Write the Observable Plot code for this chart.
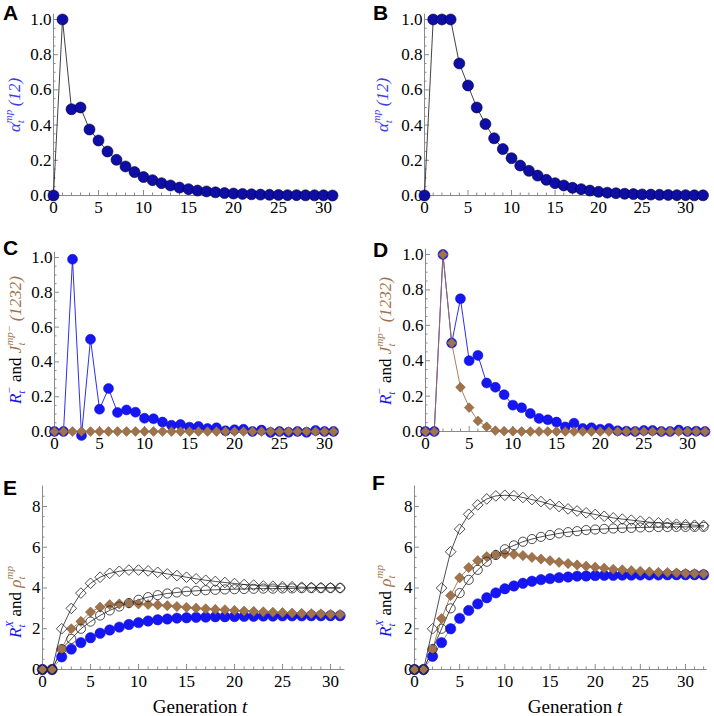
<!DOCTYPE html>
<html>
<head>
<meta charset="utf-8">
<script src="https://cdn.jsdelivr.net/npm/d3@7"></script>
<script src="https://cdn.jsdelivr.net/npm/@observablehq/plot@0.6"></script>
<style>
  html, body { margin: 0; padding: 0; background: #fff; }
  #page { position: relative; width: 714px; height: 716px; overflow: hidden; }
  .panel { position: absolute; }
  #overlay { position: absolute; left: 0; top: 0; pointer-events: none; }
</style>
</head>
<body>
<div id="page"></div>
<script>
// ---------- data ----------
const gen31 = [0,1,2,3,4,5,6,7,8,9,10,11,12,13,14,15,16,17,18,19,20,21,22,23,24,25,26,27,28,29,30,31];
const gen32 = [0,1,2,3,4,5,6,7,8,9,10,11,12,13,14,15,16,17,18,19,20,21,22,23,24,25,26,27,28,29,30,31,32];

const xTicksMajor = [0, 5, 10, 15, 20, 25, 30];
const xTicksMinor = [1,2,3,4,6,7,8,9,11,12,13,14,16,17,18,19,21,22,23,24,26,27,28,29,31,32];
const yTicksUnit = [0, 0.2, 0.4, 0.6, 0.8, 1.0];
const yTicksUnitMinor = [0.05,0.1,0.15,0.25,0.3,0.35,0.45,0.5,0.55,0.65,0.7,0.75,0.85,0.9,0.95];
const yTicksR = [0, 2, 4, 6, 8];
const yTicksRMinor = [0.5,1,1.5,2.5,3,3.5,4.5,5,5.5,6.5,7,7.5,8.5];

// Panel A: alpha_t^mp(12)
const alphaA = [0, 1.0, 0.49, 0.5, 0.375, 0.3125, 0.25, 0.203, 0.165, 0.133, 0.105, 0.087, 0.07, 0.057, 0.045, 0.036, 0.028, 0.023, 0.018, 0.014, 0.011, 0.009, 0.007, 0.005, 0.004, 0.003, 0.002, 0.002, 0.001, 0.001, 0.001, 0.0];
// Panel B: alpha_t^mp(12)
const alphaB = [0, 1, 1, 1, 0.75, 0.625, 0.5, 0.406, 0.325, 0.264, 0.212, 0.17, 0.14, 0.113, 0.089, 0.07, 0.057, 0.044, 0.036, 0.028, 0.021, 0.016, 0.013, 0.01, 0.008, 0.006, 0.005, 0.004, 0.003, 0.002, 0.002, 0.001, 0.001];
// Panel C: R_t^- (blue) and J_t^{mp-}(1232) (brown)
const rMinusC = [0, 0, 0.99, -0.023, 0.53, 0.128, 0.247, 0.109, 0.124, 0.111, 0.076, 0.073, 0.054, 0.036, 0.04, 0.025, 0.029, 0.017, 0.021, 0.004, 0.01, 0.013, 0, 0.008, -0.006, 0, -0.005, 0, -0.005, 0.006, 0, 0];
const jMinusC = [0,0,0,0,0,0,0,0,0,0,0,0,0,0,0,0,0,0,0,0,0,0,0,0,0,0,0,0,0,0,0,0];
// Panel D
const rMinusD = [0, 0, 1.0, 0.5, 0.75, 0.4, 0.43, 0.274, 0.25, 0.208, 0.149, 0.134, 0.102, 0.074, 0.066, 0.053, 0.026, 0.047, 0.017, 0.021, 0.013, 0.017, 0.004, 0.002, 0, 0.006, 0.006, 0, 0, 0.008, 0, 0.002, 0];
const jMinusD = [0, 0, 1.0, 0.5, 0.25, 0.135, 0.06, 0.027, 0.005, 0.002, 0.001, 0, 0, 0, 0, 0, 0, 0, 0, 0, 0, 0, 0, 0, 0, 0, 0, 0, 0, 0, 0, 0, 0];
// Panel E: R_t^X (blue), rho_t^mp (brown), open diamonds, open circles
const rXE = [0, 0, 0.62, 1.0, 1.32, 1.56, 1.78, 1.94, 2.08, 2.21, 2.3, 2.38, 2.44, 2.48, 2.52, 2.54, 2.56, 2.57, 2.59, 2.59, 2.6, 2.61, 2.61, 2.62, 2.62, 2.63, 2.63, 2.63, 2.64, 2.64, 2.64, 2.64];
const rhoE = [0, 0, 1.0, 2.0, 2.36, 2.82, 3.06, 3.18, 3.22, 3.26, 3.22, 3.19, 3.17, 3.13, 3.09, 3.05, 3.01, 2.98, 2.95, 2.93, 2.9, 2.87, 2.85, 2.83, 2.81, 2.79, 2.77, 2.75, 2.74, 2.73, 2.71, 2.7];
const openDiamondE = [0, 0, 2.0, 3.0, 3.75, 4.23, 4.53, 4.72, 4.82, 4.88, 4.88, 4.84, 4.77, 4.69, 4.61, 4.53, 4.45, 4.38, 4.32, 4.27, 4.22, 4.17, 4.14, 4.1, 4.09, 4.07, 4.06, 4.04, 4.03, 4.02, 4.01, 4.0];
const openCircleE = [0, 0, 1.0, 1.5, 2.0, 2.35, 2.65, 2.9, 3.09, 3.26, 3.42, 3.55, 3.65, 3.73, 3.78, 3.83, 3.86, 3.89, 3.91, 3.93, 3.94, 3.95, 3.96, 3.97, 3.97, 3.98, 3.98, 3.99, 3.99, 3.99, 4.0, 4.0];
// Panel F
const rXF = [0, 0, 0.65, 1.32, 2.0, 2.51, 2.9, 3.22, 3.52, 3.76, 3.96, 4.1, 4.23, 4.33, 4.41, 4.46, 4.51, 4.54, 4.58, 4.59, 4.61, 4.62, 4.62, 4.63, 4.63, 4.64, 4.64, 4.64, 4.65, 4.65, 4.65, 4.65, 4.65];
const rhoF = [0, 0, 1.0, 2.5, 3.63, 4.5, 5.0, 5.34, 5.54, 5.63, 5.67, 5.65, 5.59, 5.5, 5.42, 5.34, 5.26, 5.2, 5.13, 5.07, 5.02, 4.97, 4.92, 4.89, 4.85, 4.82, 4.79, 4.77, 4.76, 4.74, 4.72, 4.71, 4.69];
const openDiamondF = [0, 0, 2.0, 4.0, 5.78, 6.89, 7.62, 8.08, 8.37, 8.52, 8.55, 8.53, 8.44, 8.34, 8.24, 8.11, 8.0, 7.88, 7.78, 7.69, 7.61, 7.52, 7.44, 7.38, 7.33, 7.28, 7.23, 7.2, 7.17, 7.13, 7.11, 7.08, 7.07];
const openCircleF = [0, 0, 1.0, 2.0, 3.0, 3.75, 4.4, 4.89, 5.29, 5.62, 5.9, 6.09, 6.27, 6.4, 6.51, 6.6, 6.68, 6.74, 6.79, 6.84, 6.87, 6.9, 6.92, 6.94, 6.95, 6.97, 6.98, 6.99, 6.99, 7.0, 7.0, 7.0, 7.0];

// ---------- styling ----------
const SERIF = "Liberation Serif";
const SANS = "Liberation Sans";
const AX = "#8a8a8a";
const DARKBLUE = "#0e0ea6";
const BLUE = "#1616f2";
const LABELBLUE = "#3c3ce6";
const BROWN = "#a0734b";

const rows = (ts, vs) => ts.map((t, i) => ({t, v: vs[i]}));

function makePanel(c) {
  const txt = {fontFamily: SERIF, fontSize: 17, fill: "black"};
  return Plot.plot({
    width: c.w, height: c.h,
    marginLeft: c.ml, marginRight: c.mr, marginTop: c.mt, marginBottom: c.mb,
    x: {domain: c.xd, axis: null},
    y: {domain: c.yd, axis: null},
    style: {background: "transparent", overflow: "visible", color: "black"},
    marks: [
      Plot.ruleX([0], {stroke: AX, strokeWidth: 1}),
      Plot.ruleY([0], {stroke: AX, strokeWidth: 1}),
      // tick marks (pointing inward, major + minor)
      Plot.axisX({ticks: xTicksMajor, tickSize: -5, stroke: AX, label: null, tickFormat: () => ""}),
      Plot.axisX({ticks: xTicksMinor.filter(d => d <= c.xd[1]), tickSize: -2.5, stroke: AX, label: null, tickFormat: () => ""}),
      Plot.axisY({ticks: c.yMaj, tickSize: -5, stroke: AX, label: null, tickFormat: () => ""}),
      Plot.axisY({ticks: c.yMin, tickSize: -2.5, stroke: AX, label: null, tickFormat: () => ""}),
      // tick labels
      Plot.axisX({ticks: xTicksMajor, tickSize: 0, tickPadding: 5, label: null, tickFormat: d => String(d), ...txt}),
      Plot.axisY({ticks: c.yMaj, tickSize: 0, tickPadding: 2, label: null, tickFormat: c.yFmt, ...txt}),
      ...c.marks
    ]
  });
}

const fmt1 = d3.format(".1f");
const fmt0 = d => String(d);

function alphaMarks(data) {
  return [
    Plot.line(data, {x: "t", y: "v", stroke: "#111", strokeWidth: 0.8}),
    Plot.dot(data, {x: "t", y: "v", r: 5.5, fill: DARKBLUE, stroke: "#000033", strokeWidth: 0.6})
  ];
}
function rjMarks(rData, jData) {
  return [
    Plot.line(rData, {x: "t", y: "v", stroke: BLUE, strokeWidth: 0.9}),
    Plot.line(jData, {x: "t", y: "v", stroke: BROWN, strokeWidth: 0.9}),
    Plot.dot(rData, {x: "t", y: "v", r: 5, fill: BLUE, stroke: "#0a0ad0", strokeWidth: 0.5}),
    Plot.dot(jData, {x: "t", y: "v", symbol: "diamond2", r: 4.4, fill: BROWN, stroke: "#7a5530", strokeWidth: 0.5})
  ];
}
function rhoMarks(rX, rho, od, oc) {
  return [
    Plot.line(rX, {x: "t", y: "v", stroke: "#6a6aff", strokeWidth: 0.8}),
    Plot.line(rho, {x: "t", y: "v", stroke: BROWN, strokeWidth: 0.9}),
    Plot.line(oc, {x: "t", y: "v", stroke: "#222", strokeWidth: 0.8}),
    Plot.line(od, {x: "t", y: "v", stroke: "#222", strokeWidth: 0.8}),
    Plot.dot(rX, {x: "t", y: "v", r: 5.2, fill: BLUE, stroke: "#0a0ad0", strokeWidth: 0.5}),
    Plot.dot(rho, {x: "t", y: "v", symbol: "diamond2", r: 4.6, fill: BROWN, stroke: "#7a5530", strokeWidth: 0.5}),
    Plot.dot(oc, {x: "t", y: "v", r: 4.6, fill: "none", stroke: "#222", strokeWidth: 0.8}),
    Plot.dot(od, {x: "t", y: "v", symbol: "diamond2", r: 4.8, fill: "none", stroke: "#222", strokeWidth: 0.8})
  ];
}

const panels = [
  {left: 0, top: 0, w: 357, h: 230, ml: 53, mr: 20.5, mt: 13.7, mb: 35, xd: [0, 31.5], yd: [0, 1.03],
   yMaj: yTicksUnit, yMin: yTicksUnitMinor, yFmt: fmt1, marks: alphaMarks(rows(gen31, alphaA))},
  {left: 357, top: 0, w: 357, h: 230, ml: 67, mr: 8, mt: 13.7, mb: 35, xd: [0, 32.4], yd: [0, 1.03],
   yMaj: yTicksUnit, yMin: yTicksUnitMinor, yFmt: fmt1, marks: alphaMarks(rows(gen32, alphaB))},
  {left: 0, top: 230, w: 357, h: 230, ml: 54, mr: 19.5, mt: 21.8, mb: 29, xd: [0, 31.5], yd: [0, 1.03],
   yMaj: yTicksUnit, yMin: yTicksUnitMinor, yFmt: fmt1, marks: rjMarks(rows(gen31, rMinusC), rows(gen31, jMinusC))},
  {left: 357, top: 230, w: 357, h: 230, ml: 68, mr: 6, mt: 18.7, mb: 29, xd: [0, 32.4], yd: [0, 1.03],
   yMaj: yTicksUnit, yMin: yTicksUnitMinor, yFmt: fmt1, marks: rjMarks(rows(gen32, rMinusD), rows(gen32, jMinusD))},
  {left: 0, top: 460, w: 357, h: 256, ml: 42, mr: 12.6, mt: 25.6, mb: 47, xd: [0, 31.5], yd: [0, 9],
   yMaj: yTicksR, yMin: yTicksRMinor, yFmt: fmt0, marks: rhoMarks(rows(gen31, rXE), rows(gen31, rhoE), rows(gen31, openDiamondE), rows(gen31, openCircleE))},
  {left: 357, top: 460, w: 357, h: 256, ml: 57, mr: 7.3, mt: 25.6, mb: 47, xd: [0, 32.4], yd: [0, 9],
   yMaj: yTicksR, yMin: yTicksRMinor, yFmt: fmt0, marks: rhoMarks(rows(gen32, rXF), rows(gen32, rhoF), rows(gen32, openDiamondF), rows(gen32, openCircleF))}
];

const page = document.getElementById("page");
for (const p of panels) {
  const div = document.createElement("div");
  div.className = "panel";
  div.style.left = p.left + "px";
  div.style.top = p.top + "px";
  div.appendChild(makePanel(p));
  page.appendChild(div);
}

// ---------- overlay text: panel letters, axis labels ----------
const svg = d3.select(page).append("svg").attr("id", "overlay").attr("width", 714).attr("height", 716);

const letters = [["A", 3, 20], ["B", 373, 20], ["C", 3, 255], ["D", 373, 257], ["E", 3, 495], ["F", 372, 490]];
for (const [s, x, y] of letters) {
  svg.append("text").attr("x", x).attr("y", y).attr("font-family", SANS).attr("font-weight", "bold")
    .attr("font-size", 21).attr("fill", "black").text(s);
}

function richLabel(x, y, parts) {
  const text = svg.append("text")
    .attr("transform", `translate(${x},${y}) rotate(-90)`)
    .attr("text-anchor", "middle")
    .attr("font-family", SERIF).attr("font-size", 17);
  let pendingDy = 0, pendingDx = 0;
  for (const p of parts) {
    if (p.sub !== undefined) {
      const sub = text.append("tspan").attr("font-size", 11).attr("font-style", "italic").attr("fill", p.c)
        .attr("dy", 4).text(p.sub);
      const L1 = sub.node().getComputedTextLength();
      const sup = text.append("tspan").attr("font-size", 11).attr("font-style", "italic").attr("fill", p.c)
        .attr("dx", -L1).attr("dy", -12).text(p.sup);
      const L2 = sup.node().getComputedTextLength();
      pendingDy = 8;
      pendingDx = Math.max(0, L1 - L2);
    } else {
      const t = text.append("tspan").attr("fill", p.c).attr("font-style", p.i ? "italic" : "normal").text(p.s);
      if (pendingDy) t.attr("dy", pendingDy);
      if (pendingDx) t.attr("dx", pendingDx);
      pendingDy = 0; pendingDx = 0;
    }
  }
  return text;
}

const alphaLabel = [{s: "α", c: LABELBLUE, i: true}, {sub: "t", sup: "mp", c: LABELBLUE}, {s: "\u2009(12)", c: LABELBLUE, i: true}];
richLabel(20, 105, alphaLabel);
richLabel(388, 105, alphaLabel);

const rjLabel = [{s: "R", c: BLUE, i: true}, {sub: "t", sup: "\u2212", c: BLUE}, {s: " and ", c: "black", i: false},
                 {s: "J", c: BROWN, i: true}, {sub: "t", sup: "mp\u2212", c: BROWN}, {s: "\u2009(1232)", c: BROWN, i: true}];
richLabel(21, 340, rjLabel);
richLabel(391, 341, rjLabel);

const rhoLabel = [{s: "R", c: BLUE, i: true}, {sub: "t", sup: "X", c: BLUE}, {s: " and ", c: "black", i: false},
                  {s: "ρ", c: BROWN, i: true}, {sub: "t", sup: "mp", c: BROWN}];
richLabel(21, 602, rhoLabel);
richLabel(391, 601, rhoLabel);

for (const cx of [200, 575]) {
  const t = svg.append("text").attr("x", cx).attr("y", 713).attr("text-anchor", "middle")
    .attr("font-family", SERIF).attr("font-size", 19).attr("fill", "black");
  t.append("tspan").text("Generation");
  t.append("tspan").attr("font-style", "italic").text(" t");
}
</script>
</body>
</html>
